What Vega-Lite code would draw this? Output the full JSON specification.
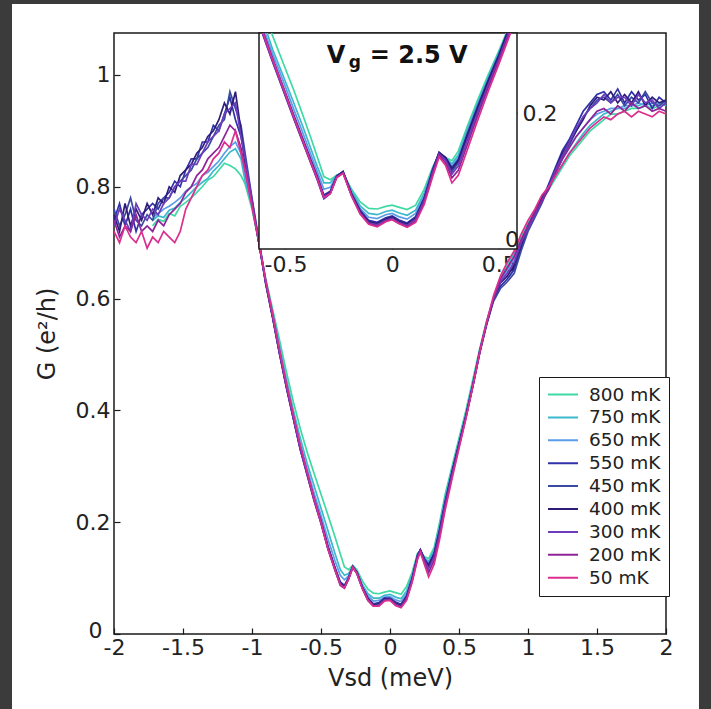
{
"$schema":"https://vega.github.io/schema/vega-lite/v6.json",
"width":552,"height":601,
"autosize":{"type":"none"},
"padding":{"left":114,"top":33,"right":45,"bottom":75},
"background":"white",
"config":{
 "font":"DejaVu Sans",
 "view":{"stroke":"#1a1a1a","strokeWidth":1.5},
 "axis":{"grid":false,"domain":false,"tickColor":"#1a1a1a","tickWidth":1.2,"labelColor":"#222","titleColor":"#222","labelFont":"DejaVu Sans","titleFont":"DejaVu Sans","labelFontSize":22,"titleFontSize":24,"titleFontWeight":"normal","labelFlush":false,"labelOverlap":false,"zindex":1}
},
"datasets":{
"main":[
{"T":800,"x":-1.72,"G":0.73},{"T":800,"x":-1.68,"G":0.742},{"T":800,"x":-1.64,"G":0.738},{"T":800,"x":-1.6,"G":0.752},{"T":800,"x":-1.56,"G":0.748},{"T":800,"x":-1.52,"G":0.765},{"T":800,"x":-1.48,"G":0.772},{"T":800,"x":-1.44,"G":0.78},{"T":800,"x":-1.4,"G":0.79},{"T":800,"x":-1.36,"G":0.8},{"T":800,"x":-1.32,"G":0.812},{"T":800,"x":-1.28,"G":0.818},{"T":800,"x":-1.24,"G":0.83},{"T":800,"x":-1.2,"G":0.842},{"T":800,"x":-1.16,"G":0.838},{"T":800,"x":-1.12,"G":0.832},{"T":800,"x":-1.08,"G":0.82},
{"T":800,"x":-1.05,"G":0.805},{"T":800,"x":-1,"G":0.76},{"T":800,"x":-0.95,"G":0.7},{"T":800,"x":-0.9,"G":0.635},{"T":800,"x":-0.85,"G":0.58},{"T":800,"x":-0.8,"G":0.525},{"T":800,"x":-0.75,"G":0.468},{"T":800,"x":-0.7,"G":0.415},{"T":800,"x":-0.65,"G":0.367},{"T":800,"x":-0.6,"G":0.325},{"T":800,"x":-0.55,"G":0.287},{"T":800,"x":-0.5,"G":0.25},{"T":800,"x":-0.45,"G":0.213},{"T":800,"x":-0.4,"G":0.175},{"T":800,"x":-0.36,"G":0.143},{"T":800,"x":-0.33,"G":0.12},{"T":800,"x":-0.3,"G":0.115},{"T":800,"x":-0.27,"G":0.123},{"T":800,"x":-0.24,"G":0.115},{"T":800,"x":-0.2,"G":0.095},{"T":800,"x":-0.16,"G":0.08},{"T":800,"x":-0.12,"G":0.073},{"T":800,"x":-0.08,"G":0.072},{"T":800,"x":-0.04,"G":0.075},{"T":800,"x":0,"G":0.077},{"T":800,"x":0.04,"G":0.074},{"T":800,"x":0.08,"G":0.071},{"T":800,"x":0.12,"G":0.085},{"T":800,"x":0.16,"G":0.11},{"T":800,"x":0.2,"G":0.145},{"T":800,"x":0.22,"G":0.148},{"T":800,"x":0.25,"G":0.138},{"T":800,"x":0.28,"G":0.135},{"T":800,"x":0.32,"G":0.155},{"T":800,"x":0.36,"G":0.2},{"T":800,"x":0.4,"G":0.25},{"T":800,"x":0.45,"G":0.3},{"T":800,"x":0.5,"G":0.35},{"T":800,"x":0.55,"G":0.4},{"T":800,"x":0.6,"G":0.455},{"T":800,"x":0.65,"G":0.51},{"T":800,"x":0.7,"G":0.56},{"T":800,"x":0.75,"G":0.6},{"T":800,"x":0.8,"G":0.635},{"T":800,"x":0.85,"G":0.66},{"T":800,"x":0.9,"G":0.685},{"T":800,"x":0.95,"G":0.71},
{"T":800,"x":1,"G":0.735},{"T":800,"x":1.05,"G":0.755},{"T":800,"x":1.1,"G":0.775},{"T":800,"x":1.15,"G":0.795},{"T":800,"x":1.2,"G":0.815},{"T":800,"x":1.25,"G":0.835},{"T":800,"x":1.3,"G":0.855},{"T":800,"x":1.35,"G":0.87},{"T":800,"x":1.4,"G":0.885},{"T":800,"x":1.45,"G":0.9},{"T":800,"x":1.5,"G":0.91},{"T":800,"x":1.55,"G":0.92},{"T":800,"x":1.6,"G":0.93},{"T":800,"x":1.65,"G":0.93},{"T":800,"x":1.7,"G":0.935},{"T":800,"x":1.75,"G":0.94},{"T":800,"x":1.8,"G":0.94},{"T":800,"x":1.85,"G":0.945},{"T":800,"x":1.9,"G":0.94},{"T":800,"x":1.95,"G":0.945},

{"T":750,"x":-1.72,"G":0.74},{"T":750,"x":-1.68,"G":0.748},{"T":750,"x":-1.64,"G":0.745},{"T":750,"x":-1.6,"G":0.758},{"T":750,"x":-1.56,"G":0.762},{"T":750,"x":-1.52,"G":0.772},{"T":750,"x":-1.48,"G":0.78},{"T":750,"x":-1.44,"G":0.79},{"T":750,"x":-1.4,"G":0.8},{"T":750,"x":-1.36,"G":0.808},{"T":750,"x":-1.32,"G":0.815},{"T":750,"x":-1.28,"G":0.828},{"T":750,"x":-1.24,"G":0.838},{"T":750,"x":-1.2,"G":0.85},{"T":750,"x":-1.16,"G":0.862},{"T":750,"x":-1.12,"G":0.868},{"T":750,"x":-1.08,"G":0.85},
{"T":750,"x":-1.05,"G":0.81},{"T":750,"x":-1,"G":0.765},{"T":750,"x":-0.95,"G":0.7},{"T":750,"x":-0.9,"G":0.63},{"T":750,"x":-0.85,"G":0.575},{"T":750,"x":-0.8,"G":0.515},{"T":750,"x":-0.75,"G":0.455},{"T":750,"x":-0.7,"G":0.4},{"T":750,"x":-0.65,"G":0.35},{"T":750,"x":-0.6,"G":0.305},{"T":750,"x":-0.55,"G":0.265},{"T":750,"x":-0.5,"G":0.225},{"T":750,"x":-0.45,"G":0.185},{"T":750,"x":-0.4,"G":0.145},{"T":750,"x":-0.36,"G":0.115},{"T":750,"x":-0.33,"G":0.105},{"T":750,"x":-0.3,"G":0.108},{"T":750,"x":-0.27,"G":0.121},{"T":750,"x":-0.24,"G":0.112},{"T":750,"x":-0.2,"G":0.088},{"T":750,"x":-0.16,"G":0.072},{"T":750,"x":-0.12,"G":0.064},{"T":750,"x":-0.08,"G":0.064},{"T":750,"x":-0.04,"G":0.069},{"T":750,"x":0,"G":0.071},{"T":750,"x":0.04,"G":0.066},{"T":750,"x":0.08,"G":0.063},{"T":750,"x":0.12,"G":0.077},{"T":750,"x":0.16,"G":0.105},{"T":750,"x":0.2,"G":0.143},{"T":750,"x":0.22,"G":0.149},{"T":750,"x":0.25,"G":0.136},{"T":750,"x":0.28,"G":0.13},{"T":750,"x":0.32,"G":0.15},{"T":750,"x":0.36,"G":0.195},{"T":750,"x":0.4,"G":0.245},{"T":750,"x":0.45,"G":0.295},{"T":750,"x":0.5,"G":0.345},{"T":750,"x":0.55,"G":0.395},{"T":750,"x":0.6,"G":0.45},{"T":750,"x":0.65,"G":0.508},{"T":750,"x":0.7,"G":0.558},{"T":750,"x":0.75,"G":0.6},{"T":750,"x":0.8,"G":0.632},{"T":750,"x":0.85,"G":0.655},{"T":750,"x":0.9,"G":0.68},{"T":750,"x":0.95,"G":0.705},
{"T":750,"x":1,"G":0.73},{"T":750,"x":1.05,"G":0.752},{"T":750,"x":1.1,"G":0.775},{"T":750,"x":1.15,"G":0.797},{"T":750,"x":1.2,"G":0.82},{"T":750,"x":1.25,"G":0.84},{"T":750,"x":1.3,"G":0.86},{"T":750,"x":1.35,"G":0.878},{"T":750,"x":1.4,"G":0.895},{"T":750,"x":1.45,"G":0.91},{"T":750,"x":1.5,"G":0.92},{"T":750,"x":1.55,"G":0.93},{"T":750,"x":1.6,"G":0.935},{"T":750,"x":1.65,"G":0.94},{"T":750,"x":1.7,"G":0.94},{"T":750,"x":1.75,"G":0.945},{"T":750,"x":1.8,"G":0.945},{"T":750,"x":1.85,"G":0.95},{"T":750,"x":1.9,"G":0.945},{"T":750,"x":1.95,"G":0.95},{"T":750,"x":2,"G":0.945},

{"T":650,"x":-1.72,"G":0.745},{"T":650,"x":-1.68,"G":0.752},{"T":650,"x":-1.64,"G":0.76},{"T":650,"x":-1.6,"G":0.765},{"T":650,"x":-1.56,"G":0.772},{"T":650,"x":-1.52,"G":0.78},{"T":650,"x":-1.48,"G":0.792},{"T":650,"x":-1.44,"G":0.8},{"T":650,"x":-1.4,"G":0.806},{"T":650,"x":-1.36,"G":0.82},{"T":650,"x":-1.32,"G":0.826},{"T":650,"x":-1.28,"G":0.836},{"T":650,"x":-1.24,"G":0.846},{"T":650,"x":-1.2,"G":0.86},{"T":650,"x":-1.16,"G":0.872},{"T":650,"x":-1.12,"G":0.88},{"T":650,"x":-1.08,"G":0.86},
{"T":650,"x":-1.05,"G":0.82},{"T":650,"x":-1,"G":0.765},{"T":650,"x":-0.95,"G":0.7},{"T":650,"x":-0.9,"G":0.628},{"T":650,"x":-0.85,"G":0.57},{"T":650,"x":-0.8,"G":0.508},{"T":650,"x":-0.75,"G":0.448},{"T":650,"x":-0.7,"G":0.392},{"T":650,"x":-0.65,"G":0.34},{"T":650,"x":-0.6,"G":0.295},{"T":650,"x":-0.55,"G":0.252},{"T":650,"x":-0.5,"G":0.212},{"T":650,"x":-0.45,"G":0.17},{"T":650,"x":-0.4,"G":0.132},{"T":650,"x":-0.36,"G":0.105},{"T":650,"x":-0.33,"G":0.097},{"T":650,"x":-0.3,"G":0.104},{"T":650,"x":-0.27,"G":0.121},{"T":650,"x":-0.24,"G":0.11},{"T":650,"x":-0.2,"G":0.086},{"T":650,"x":-0.16,"G":0.068},{"T":650,"x":-0.12,"G":0.059},{"T":650,"x":-0.08,"G":0.06},{"T":650,"x":-0.04,"G":0.066},{"T":650,"x":0,"G":0.067},{"T":650,"x":0.04,"G":0.061},{"T":650,"x":0.08,"G":0.058},{"T":650,"x":0.12,"G":0.072},{"T":650,"x":0.16,"G":0.102},{"T":650,"x":0.2,"G":0.142},{"T":650,"x":0.22,"G":0.15},{"T":650,"x":0.25,"G":0.135},{"T":650,"x":0.28,"G":0.127},{"T":650,"x":0.32,"G":0.147},{"T":650,"x":0.36,"G":0.19},{"T":650,"x":0.4,"G":0.24},{"T":650,"x":0.45,"G":0.292},{"T":650,"x":0.5,"G":0.342},{"T":650,"x":0.55,"G":0.392},{"T":650,"x":0.6,"G":0.447},{"T":650,"x":0.65,"G":0.506},{"T":650,"x":0.7,"G":0.556},{"T":650,"x":0.75,"G":0.6},{"T":650,"x":0.8,"G":0.63},{"T":650,"x":0.85,"G":0.65},{"T":650,"x":0.9,"G":0.672},{"T":650,"x":0.95,"G":0.7},
{"T":650,"x":1,"G":0.73},{"T":650,"x":1.05,"G":0.75},{"T":650,"x":1.1,"G":0.775},{"T":650,"x":1.15,"G":0.8},{"T":650,"x":1.2,"G":0.825},{"T":650,"x":1.25,"G":0.85},{"T":650,"x":1.3,"G":0.87},{"T":650,"x":1.35,"G":0.89},{"T":650,"x":1.4,"G":0.905},{"T":650,"x":1.45,"G":0.92},{"T":650,"x":1.5,"G":0.93},{"T":650,"x":1.55,"G":0.935},{"T":650,"x":1.6,"G":0.94},{"T":650,"x":1.65,"G":0.94},{"T":650,"x":1.7,"G":0.945},{"T":650,"x":1.75,"G":0.945},{"T":650,"x":1.8,"G":0.95},{"T":650,"x":1.85,"G":0.945},{"T":650,"x":1.9,"G":0.95},{"T":650,"x":1.95,"G":0.945},{"T":650,"x":2,"G":0.95},

{"T":550,"x":-2,"G":0.74},{"T":550,"x":-1.96,"G":0.77},{"T":550,"x":-1.92,"G":0.73},{"T":550,"x":-1.88,"G":0.76},{"T":550,"x":-1.84,"G":0.72},{"T":550,"x":-1.8,"G":0.75},{"T":550,"x":-1.76,"G":0.76},{"T":550,"x":-1.72,"G":0.77},{"T":550,"x":-1.68,"G":0.76},{"T":550,"x":-1.64,"G":0.78},{"T":550,"x":-1.6,"G":0.79},{"T":550,"x":-1.56,"G":0.81},{"T":550,"x":-1.52,"G":0.8},{"T":550,"x":-1.48,"G":0.83},{"T":550,"x":-1.44,"G":0.85},{"T":550,"x":-1.4,"G":0.85},{"T":550,"x":-1.36,"G":0.88},{"T":550,"x":-1.32,"G":0.88},{"T":550,"x":-1.28,"G":0.91},{"T":550,"x":-1.24,"G":0.9},{"T":550,"x":-1.2,"G":0.93},{"T":550,"x":-1.16,"G":0.96},{"T":550,"x":-1.12,"G":0.92},{"T":550,"x":-1.08,"G":0.89},
{"T":550,"x":-1.05,"G":0.85},{"T":550,"x":-1,"G":0.775},{"T":550,"x":-0.95,"G":0.7},{"T":550,"x":-0.9,"G":0.628},{"T":550,"x":-0.85,"G":0.567},{"T":550,"x":-0.8,"G":0.503},{"T":550,"x":-0.75,"G":0.443},{"T":550,"x":-0.7,"G":0.388},{"T":550,"x":-0.65,"G":0.333},{"T":550,"x":-0.6,"G":0.288},{"T":550,"x":-0.55,"G":0.243},{"T":550,"x":-0.5,"G":0.203},{"T":550,"x":-0.45,"G":0.158},{"T":550,"x":-0.4,"G":0.12},{"T":550,"x":-0.36,"G":0.093},{"T":550,"x":-0.33,"G":0.087},{"T":550,"x":-0.3,"G":0.101},{"T":550,"x":-0.27,"G":0.121},{"T":550,"x":-0.24,"G":0.11},{"T":550,"x":-0.2,"G":0.084},{"T":550,"x":-0.16,"G":0.064},{"T":550,"x":-0.12,"G":0.054},{"T":550,"x":-0.08,"G":0.056},{"T":550,"x":-0.04,"G":0.064},{"T":550,"x":0,"G":0.064},{"T":550,"x":0.04,"G":0.057},{"T":550,"x":0.08,"G":0.053},{"T":550,"x":0.12,"G":0.068},{"T":550,"x":0.16,"G":0.099},{"T":550,"x":0.2,"G":0.141},{"T":550,"x":0.22,"G":0.151},{"T":550,"x":0.25,"G":0.134},{"T":550,"x":0.28,"G":0.124},{"T":550,"x":0.32,"G":0.144},{"T":550,"x":0.36,"G":0.187},{"T":550,"x":0.4,"G":0.237},{"T":550,"x":0.45,"G":0.29},{"T":550,"x":0.5,"G":0.34},{"T":550,"x":0.55,"G":0.39},{"T":550,"x":0.6,"G":0.445},{"T":550,"x":0.65,"G":0.505},{"T":550,"x":0.7,"G":0.555},{"T":550,"x":0.75,"G":0.598},{"T":550,"x":0.8,"G":0.622},{"T":550,"x":0.85,"G":0.635},{"T":550,"x":0.9,"G":0.652},{"T":550,"x":0.95,"G":0.69},
{"T":550,"x":1,"G":0.725},{"T":550,"x":1.05,"G":0.75},{"T":550,"x":1.1,"G":0.775},{"T":550,"x":1.15,"G":0.805},{"T":550,"x":1.2,"G":0.835},{"T":550,"x":1.25,"G":0.865},{"T":550,"x":1.3,"G":0.885},{"T":550,"x":1.35,"G":0.91},{"T":550,"x":1.4,"G":0.935},{"T":550,"x":1.45,"G":0.95},{"T":550,"x":1.5,"G":0.965},{"T":550,"x":1.55,"G":0.97},{"T":550,"x":1.6,"G":0.955},{"T":550,"x":1.65,"G":0.975},{"T":550,"x":1.7,"G":0.95},{"T":550,"x":1.75,"G":0.97},{"T":550,"x":1.8,"G":0.955},{"T":550,"x":1.85,"G":0.965},{"T":550,"x":1.9,"G":0.94},{"T":550,"x":1.95,"G":0.96},{"T":550,"x":2,"G":0.95},

{"T":450,"x":-2,"G":0.76},{"T":450,"x":-1.96,"G":0.73},{"T":450,"x":-1.92,"G":0.75},{"T":450,"x":-1.88,"G":0.78},{"T":450,"x":-1.84,"G":0.74},{"T":450,"x":-1.8,"G":0.73},{"T":450,"x":-1.76,"G":0.75},{"T":450,"x":-1.72,"G":0.74},{"T":450,"x":-1.68,"G":0.77},{"T":450,"x":-1.64,"G":0.78},{"T":450,"x":-1.6,"G":0.78},{"T":450,"x":-1.56,"G":0.8},{"T":450,"x":-1.52,"G":0.81},{"T":450,"x":-1.48,"G":0.82},{"T":450,"x":-1.44,"G":0.83},{"T":450,"x":-1.4,"G":0.85},{"T":450,"x":-1.36,"G":0.86},{"T":450,"x":-1.32,"G":0.87},{"T":450,"x":-1.28,"G":0.89},{"T":450,"x":-1.24,"G":0.91},{"T":450,"x":-1.2,"G":0.92},{"T":450,"x":-1.16,"G":0.97},{"T":450,"x":-1.12,"G":0.94},{"T":450,"x":-1.08,"G":0.91},
{"T":450,"x":-1.05,"G":0.86},{"T":450,"x":-1,"G":0.78},{"T":450,"x":-0.95,"G":0.705},{"T":450,"x":-0.9,"G":0.63},{"T":450,"x":-0.85,"G":0.566},{"T":450,"x":-0.8,"G":0.502},{"T":450,"x":-0.75,"G":0.441},{"T":450,"x":-0.7,"G":0.386},{"T":450,"x":-0.65,"G":0.331},{"T":450,"x":-0.6,"G":0.286},{"T":450,"x":-0.55,"G":0.241},{"T":450,"x":-0.5,"G":0.201},{"T":450,"x":-0.45,"G":0.156},{"T":450,"x":-0.4,"G":0.119},{"T":450,"x":-0.36,"G":0.091},{"T":450,"x":-0.33,"G":0.086},{"T":450,"x":-0.3,"G":0.1},{"T":450,"x":-0.27,"G":0.121},{"T":450,"x":-0.24,"G":0.11},{"T":450,"x":-0.2,"G":0.083},{"T":450,"x":-0.16,"G":0.063},{"T":450,"x":-0.12,"G":0.053},{"T":450,"x":-0.08,"G":0.055},{"T":450,"x":-0.04,"G":0.063},{"T":450,"x":0,"G":0.063},{"T":450,"x":0.04,"G":0.056},{"T":450,"x":0.08,"G":0.052},{"T":450,"x":0.12,"G":0.067},{"T":450,"x":0.16,"G":0.098},{"T":450,"x":0.2,"G":0.14},{"T":450,"x":0.22,"G":0.15},{"T":450,"x":0.25,"G":0.133},{"T":450,"x":0.28,"G":0.121},{"T":450,"x":0.32,"G":0.142},{"T":450,"x":0.36,"G":0.185},{"T":450,"x":0.4,"G":0.235},{"T":450,"x":0.45,"G":0.288},{"T":450,"x":0.5,"G":0.338},{"T":450,"x":0.55,"G":0.388},{"T":450,"x":0.6,"G":0.443},{"T":450,"x":0.65,"G":0.503},{"T":450,"x":0.7,"G":0.553},{"T":450,"x":0.75,"G":0.595},{"T":450,"x":0.8,"G":0.618},{"T":450,"x":0.85,"G":0.63},{"T":450,"x":0.9,"G":0.645},{"T":450,"x":0.95,"G":0.685},
{"T":450,"x":1,"G":0.72},{"T":450,"x":1.05,"G":0.745},{"T":450,"x":1.1,"G":0.77},{"T":450,"x":1.15,"G":0.8},{"T":450,"x":1.2,"G":0.825},{"T":450,"x":1.25,"G":0.855},{"T":450,"x":1.3,"G":0.875},{"T":450,"x":1.35,"G":0.9},{"T":450,"x":1.4,"G":0.925},{"T":450,"x":1.45,"G":0.94},{"T":450,"x":1.5,"G":0.955},{"T":450,"x":1.55,"G":0.96},{"T":450,"x":1.6,"G":0.95},{"T":450,"x":1.65,"G":0.965},{"T":450,"x":1.7,"G":0.945},{"T":450,"x":1.75,"G":0.96},{"T":450,"x":1.8,"G":0.95},{"T":450,"x":1.85,"G":0.97},{"T":450,"x":1.9,"G":0.95},{"T":450,"x":1.95,"G":0.945},{"T":450,"x":2,"G":0.955},

{"T":400,"x":-2,"G":0.75},{"T":400,"x":-1.96,"G":0.72},{"T":400,"x":-1.92,"G":0.77},{"T":400,"x":-1.88,"G":0.73},{"T":400,"x":-1.84,"G":0.76},{"T":400,"x":-1.8,"G":0.74},{"T":400,"x":-1.76,"G":0.77},{"T":400,"x":-1.72,"G":0.75},{"T":400,"x":-1.68,"G":0.78},{"T":400,"x":-1.64,"G":0.77},{"T":400,"x":-1.6,"G":0.8},{"T":400,"x":-1.56,"G":0.79},{"T":400,"x":-1.52,"G":0.82},{"T":400,"x":-1.48,"G":0.83},{"T":400,"x":-1.44,"G":0.84},{"T":400,"x":-1.4,"G":0.86},{"T":400,"x":-1.36,"G":0.87},{"T":400,"x":-1.32,"G":0.89},{"T":400,"x":-1.28,"G":0.9},{"T":400,"x":-1.24,"G":0.92},{"T":400,"x":-1.2,"G":0.95},{"T":400,"x":-1.16,"G":0.93},{"T":400,"x":-1.12,"G":0.97},{"T":400,"x":-1.08,"G":0.9},
{"T":400,"x":-1.05,"G":0.84},{"T":400,"x":-1,"G":0.77},{"T":400,"x":-0.95,"G":0.7},{"T":400,"x":-0.9,"G":0.625},{"T":400,"x":-0.85,"G":0.565},{"T":400,"x":-0.8,"G":0.5},{"T":400,"x":-0.75,"G":0.44},{"T":400,"x":-0.7,"G":0.385},{"T":400,"x":-0.65,"G":0.33},{"T":400,"x":-0.6,"G":0.285},{"T":400,"x":-0.55,"G":0.24},{"T":400,"x":-0.5,"G":0.2},{"T":400,"x":-0.45,"G":0.155},{"T":400,"x":-0.4,"G":0.118},{"T":400,"x":-0.36,"G":0.09},{"T":400,"x":-0.33,"G":0.085},{"T":400,"x":-0.3,"G":0.1},{"T":400,"x":-0.27,"G":0.12},{"T":400,"x":-0.24,"G":0.11},{"T":400,"x":-0.2,"G":0.083},{"T":400,"x":-0.16,"G":0.063},{"T":400,"x":-0.12,"G":0.052},{"T":400,"x":-0.08,"G":0.054},{"T":400,"x":-0.04,"G":0.063},{"T":400,"x":0,"G":0.063},{"T":400,"x":0.04,"G":0.055},{"T":400,"x":0.08,"G":0.051},{"T":400,"x":0.12,"G":0.066},{"T":400,"x":0.16,"G":0.098},{"T":400,"x":0.2,"G":0.14},{"T":400,"x":0.22,"G":0.15},{"T":400,"x":0.25,"G":0.133},{"T":400,"x":0.28,"G":0.122},{"T":400,"x":0.32,"G":0.143},{"T":400,"x":0.36,"G":0.185},{"T":400,"x":0.4,"G":0.235},{"T":400,"x":0.45,"G":0.29},{"T":400,"x":0.5,"G":0.34},{"T":400,"x":0.55,"G":0.39},{"T":400,"x":0.6,"G":0.445},{"T":400,"x":0.65,"G":0.505},{"T":400,"x":0.7,"G":0.555},{"T":400,"x":0.75,"G":0.6},{"T":400,"x":0.8,"G":0.628},{"T":400,"x":0.85,"G":0.64},{"T":400,"x":0.9,"G":0.66},{"T":400,"x":0.95,"G":0.695},
{"T":400,"x":1,"G":0.73},{"T":400,"x":1.05,"G":0.755},{"T":400,"x":1.1,"G":0.78},{"T":400,"x":1.15,"G":0.8},{"T":400,"x":1.2,"G":0.83},{"T":400,"x":1.25,"G":0.86},{"T":400,"x":1.3,"G":0.88},{"T":400,"x":1.35,"G":0.9},{"T":400,"x":1.4,"G":0.92},{"T":400,"x":1.45,"G":0.945},{"T":400,"x":1.5,"G":0.96},{"T":400,"x":1.55,"G":0.955},{"T":400,"x":1.6,"G":0.97},{"T":400,"x":1.65,"G":0.95},{"T":400,"x":1.7,"G":0.965},{"T":400,"x":1.75,"G":0.95},{"T":400,"x":1.8,"G":0.97},{"T":400,"x":1.85,"G":0.945},{"T":400,"x":1.9,"G":0.96},{"T":400,"x":1.95,"G":0.95},{"T":400,"x":2,"G":0.955},

{"T":300,"x":-2,"G":0.73},{"T":300,"x":-1.96,"G":0.76},{"T":300,"x":-1.92,"G":0.74},{"T":300,"x":-1.88,"G":0.72},{"T":300,"x":-1.84,"G":0.77},{"T":300,"x":-1.8,"G":0.75},{"T":300,"x":-1.76,"G":0.74},{"T":300,"x":-1.72,"G":0.76},{"T":300,"x":-1.68,"G":0.75},{"T":300,"x":-1.64,"G":0.77},{"T":300,"x":-1.6,"G":0.78},{"T":300,"x":-1.56,"G":0.8},{"T":300,"x":-1.52,"G":0.81},{"T":300,"x":-1.48,"G":0.81},{"T":300,"x":-1.44,"G":0.84},{"T":300,"x":-1.4,"G":0.84},{"T":300,"x":-1.36,"G":0.86},{"T":300,"x":-1.32,"G":0.88},{"T":300,"x":-1.28,"G":0.89},{"T":300,"x":-1.24,"G":0.9},{"T":300,"x":-1.2,"G":0.93},{"T":300,"x":-1.16,"G":0.94},{"T":300,"x":-1.12,"G":0.95},{"T":300,"x":-1.08,"G":0.89},
{"T":300,"x":-1.05,"G":0.85},{"T":300,"x":-1,"G":0.775},{"T":300,"x":-0.95,"G":0.7},{"T":300,"x":-0.9,"G":0.627},{"T":300,"x":-0.85,"G":0.566},{"T":300,"x":-0.8,"G":0.501},{"T":300,"x":-0.75,"G":0.441},{"T":300,"x":-0.7,"G":0.385},{"T":300,"x":-0.65,"G":0.33},{"T":300,"x":-0.6,"G":0.284},{"T":300,"x":-0.55,"G":0.238},{"T":300,"x":-0.5,"G":0.198},{"T":300,"x":-0.45,"G":0.153},{"T":300,"x":-0.4,"G":0.116},{"T":300,"x":-0.36,"G":0.088},{"T":300,"x":-0.33,"G":0.083},{"T":300,"x":-0.3,"G":0.099},{"T":300,"x":-0.27,"G":0.12},{"T":300,"x":-0.24,"G":0.109},{"T":300,"x":-0.2,"G":0.082},{"T":300,"x":-0.16,"G":0.061},{"T":300,"x":-0.12,"G":0.05},{"T":300,"x":-0.08,"G":0.052},{"T":300,"x":-0.04,"G":0.061},{"T":300,"x":0,"G":0.062},{"T":300,"x":0.04,"G":0.053},{"T":300,"x":0.08,"G":0.049},{"T":300,"x":0.12,"G":0.064},{"T":300,"x":0.16,"G":0.096},{"T":300,"x":0.2,"G":0.138},{"T":300,"x":0.22,"G":0.149},{"T":300,"x":0.25,"G":0.131},{"T":300,"x":0.28,"G":0.117},{"T":300,"x":0.32,"G":0.138},{"T":300,"x":0.36,"G":0.181},{"T":300,"x":0.4,"G":0.232},{"T":300,"x":0.45,"G":0.286},{"T":300,"x":0.5,"G":0.337},{"T":300,"x":0.55,"G":0.388},{"T":300,"x":0.6,"G":0.443},{"T":300,"x":0.65,"G":0.503},{"T":300,"x":0.7,"G":0.555},{"T":300,"x":0.75,"G":0.6},{"T":300,"x":0.8,"G":0.63},{"T":300,"x":0.85,"G":0.645},{"T":300,"x":0.9,"G":0.665},{"T":300,"x":0.95,"G":0.7},
{"T":300,"x":1,"G":0.725},{"T":300,"x":1.05,"G":0.75},{"T":300,"x":1.1,"G":0.775},{"T":300,"x":1.15,"G":0.8},{"T":300,"x":1.2,"G":0.83},{"T":300,"x":1.25,"G":0.855},{"T":300,"x":1.3,"G":0.88},{"T":300,"x":1.35,"G":0.905},{"T":300,"x":1.4,"G":0.925},{"T":300,"x":1.45,"G":0.94},{"T":300,"x":1.5,"G":0.95},{"T":300,"x":1.55,"G":0.965},{"T":300,"x":1.6,"G":0.95},{"T":300,"x":1.65,"G":0.96},{"T":300,"x":1.7,"G":0.96},{"T":300,"x":1.75,"G":0.945},{"T":300,"x":1.8,"G":0.965},{"T":300,"x":1.85,"G":0.95},{"T":300,"x":1.9,"G":0.955},{"T":300,"x":1.95,"G":0.94},{"T":300,"x":2,"G":0.95},

{"T":200,"x":-2,"G":0.74},{"T":200,"x":-1.96,"G":0.71},{"T":200,"x":-1.92,"G":0.73},{"T":200,"x":-1.88,"G":0.72},{"T":200,"x":-1.84,"G":0.75},{"T":200,"x":-1.8,"G":0.72},{"T":200,"x":-1.76,"G":0.73},{"T":200,"x":-1.72,"G":0.72},{"T":200,"x":-1.68,"G":0.74},{"T":200,"x":-1.64,"G":0.73},{"T":200,"x":-1.6,"G":0.75},{"T":200,"x":-1.56,"G":0.76},{"T":200,"x":-1.52,"G":0.77},{"T":200,"x":-1.48,"G":0.79},{"T":200,"x":-1.44,"G":0.8},{"T":200,"x":-1.4,"G":0.82},{"T":200,"x":-1.36,"G":0.83},{"T":200,"x":-1.32,"G":0.85},{"T":200,"x":-1.28,"G":0.86},{"T":200,"x":-1.24,"G":0.87},{"T":200,"x":-1.2,"G":0.89},{"T":200,"x":-1.16,"G":0.91},{"T":200,"x":-1.12,"G":0.9},{"T":200,"x":-1.08,"G":0.87},
{"T":200,"x":-1.05,"G":0.83},{"T":200,"x":-1,"G":0.77},{"T":200,"x":-0.95,"G":0.7},{"T":200,"x":-0.9,"G":0.63},{"T":200,"x":-0.85,"G":0.57},{"T":200,"x":-0.8,"G":0.505},{"T":200,"x":-0.75,"G":0.445},{"T":200,"x":-0.7,"G":0.39},{"T":200,"x":-0.65,"G":0.335},{"T":200,"x":-0.6,"G":0.288},{"T":200,"x":-0.55,"G":0.24},{"T":200,"x":-0.5,"G":0.198},{"T":200,"x":-0.45,"G":0.152},{"T":200,"x":-0.4,"G":0.115},{"T":200,"x":-0.36,"G":0.087},{"T":200,"x":-0.33,"G":0.082},{"T":200,"x":-0.3,"G":0.098},{"T":200,"x":-0.27,"G":0.119},{"T":200,"x":-0.24,"G":0.108},{"T":200,"x":-0.2,"G":0.081},{"T":200,"x":-0.16,"G":0.06},{"T":200,"x":-0.12,"G":0.05},{"T":200,"x":-0.08,"G":0.051},{"T":200,"x":-0.04,"G":0.06},{"T":200,"x":0,"G":0.061},{"T":200,"x":0.04,"G":0.052},{"T":200,"x":0.08,"G":0.048},{"T":200,"x":0.12,"G":0.062},{"T":200,"x":0.16,"G":0.094},{"T":200,"x":0.2,"G":0.136},{"T":200,"x":0.22,"G":0.148},{"T":200,"x":0.25,"G":0.128},{"T":200,"x":0.28,"G":0.11},{"T":200,"x":0.32,"G":0.132},{"T":200,"x":0.36,"G":0.176},{"T":200,"x":0.4,"G":0.228},{"T":200,"x":0.45,"G":0.283},{"T":200,"x":0.5,"G":0.335},{"T":200,"x":0.55,"G":0.387},{"T":200,"x":0.6,"G":0.443},{"T":200,"x":0.65,"G":0.503},{"T":200,"x":0.7,"G":0.556},{"T":200,"x":0.75,"G":0.6},{"T":200,"x":0.8,"G":0.635},{"T":200,"x":0.85,"G":0.655},{"T":200,"x":0.9,"G":0.675},{"T":200,"x":0.95,"G":0.705},
{"T":200,"x":1,"G":0.73},{"T":200,"x":1.05,"G":0.755},{"T":200,"x":1.1,"G":0.775},{"T":200,"x":1.15,"G":0.795},{"T":200,"x":1.2,"G":0.825},{"T":200,"x":1.25,"G":0.85},{"T":200,"x":1.3,"G":0.87},{"T":200,"x":1.35,"G":0.89},{"T":200,"x":1.4,"G":0.905},{"T":200,"x":1.45,"G":0.92},{"T":200,"x":1.5,"G":0.935},{"T":200,"x":1.55,"G":0.94},{"T":200,"x":1.6,"G":0.93},{"T":200,"x":1.65,"G":0.945},{"T":200,"x":1.7,"G":0.935},{"T":200,"x":1.75,"G":0.95},{"T":200,"x":1.8,"G":0.94},{"T":200,"x":1.85,"G":0.945},{"T":200,"x":1.9,"G":0.935},{"T":200,"x":1.95,"G":0.94},{"T":200,"x":2,"G":0.935},

{"T":50,"x":-2,"G":0.72},{"T":50,"x":-1.96,"G":0.7},{"T":50,"x":-1.92,"G":0.73},{"T":50,"x":-1.88,"G":0.71},{"T":50,"x":-1.84,"G":0.7},{"T":50,"x":-1.8,"G":0.72},{"T":50,"x":-1.76,"G":0.69},{"T":50,"x":-1.72,"G":0.71},{"T":50,"x":-1.68,"G":0.7},{"T":50,"x":-1.64,"G":0.72},{"T":50,"x":-1.6,"G":0.71},{"T":50,"x":-1.56,"G":0.7},{"T":50,"x":-1.52,"G":0.72},{"T":50,"x":-1.48,"G":0.76},{"T":50,"x":-1.44,"G":0.78},{"T":50,"x":-1.4,"G":0.8},{"T":50,"x":-1.36,"G":0.82},{"T":50,"x":-1.32,"G":0.83},{"T":50,"x":-1.28,"G":0.85},{"T":50,"x":-1.24,"G":0.86},{"T":50,"x":-1.2,"G":0.88},{"T":50,"x":-1.16,"G":0.87},{"T":50,"x":-1.12,"G":0.9},{"T":50,"x":-1.08,"G":0.86},
{"T":50,"x":-1.05,"G":0.83},{"T":50,"x":-1,"G":0.765},{"T":50,"x":-0.95,"G":0.7},{"T":50,"x":-0.9,"G":0.632},{"T":50,"x":-0.85,"G":0.572},{"T":50,"x":-0.8,"G":0.507},{"T":50,"x":-0.75,"G":0.447},{"T":50,"x":-0.7,"G":0.392},{"T":50,"x":-0.65,"G":0.337},{"T":50,"x":-0.6,"G":0.29},{"T":50,"x":-0.55,"G":0.242},{"T":50,"x":-0.5,"G":0.2},{"T":50,"x":-0.45,"G":0.153},{"T":50,"x":-0.4,"G":0.116},{"T":50,"x":-0.36,"G":0.088},{"T":50,"x":-0.33,"G":0.083},{"T":50,"x":-0.3,"G":0.098},{"T":50,"x":-0.27,"G":0.119},{"T":50,"x":-0.24,"G":0.108},{"T":50,"x":-0.2,"G":0.081},{"T":50,"x":-0.16,"G":0.06},{"T":50,"x":-0.12,"G":0.05},{"T":50,"x":-0.08,"G":0.05},{"T":50,"x":-0.04,"G":0.059},{"T":50,"x":0,"G":0.06},{"T":50,"x":0.04,"G":0.051},{"T":50,"x":0.08,"G":0.047},{"T":50,"x":0.12,"G":0.06},{"T":50,"x":0.16,"G":0.092},{"T":50,"x":0.2,"G":0.134},{"T":50,"x":0.22,"G":0.146},{"T":50,"x":0.25,"G":0.124},{"T":50,"x":0.28,"G":0.102},{"T":50,"x":0.32,"G":0.125},{"T":50,"x":0.36,"G":0.17},{"T":50,"x":0.4,"G":0.222},{"T":50,"x":0.45,"G":0.278},{"T":50,"x":0.5,"G":0.332},{"T":50,"x":0.55,"G":0.385},{"T":50,"x":0.6,"G":0.443},{"T":50,"x":0.65,"G":0.505},{"T":50,"x":0.7,"G":0.558},{"T":50,"x":0.75,"G":0.605},{"T":50,"x":0.8,"G":0.64},{"T":50,"x":0.85,"G":0.665},{"T":50,"x":0.9,"G":0.685},{"T":50,"x":0.95,"G":0.715},
{"T":50,"x":1,"G":0.74},{"T":50,"x":1.05,"G":0.76},{"T":50,"x":1.1,"G":0.785},{"T":50,"x":1.15,"G":0.8},{"T":50,"x":1.2,"G":0.82},{"T":50,"x":1.25,"G":0.84},{"T":50,"x":1.3,"G":0.86},{"T":50,"x":1.35,"G":0.875},{"T":50,"x":1.4,"G":0.89},{"T":50,"x":1.45,"G":0.905},{"T":50,"x":1.5,"G":0.915},{"T":50,"x":1.55,"G":0.925},{"T":50,"x":1.6,"G":0.92},{"T":50,"x":1.65,"G":0.93},{"T":50,"x":1.7,"G":0.935},{"T":50,"x":1.75,"G":0.925},{"T":50,"x":1.8,"G":0.935},{"T":50,"x":1.85,"G":0.93},{"T":50,"x":1.9,"G":0.925},{"T":50,"x":1.95,"G":0.935},{"T":50,"x":2,"G":0.93}
],
"inset":[
{"T":800,"x":-0.57,"G":0.33},{"T":800,"x":-0.51,"G":0.278},{"T":800,"x":-0.46,"G":0.235},{"T":800,"x":-0.42,"G":0.198},{"T":800,"x":-0.38,"G":0.16},{"T":800,"x":-0.35,"G":0.13},{"T":800,"x":-0.32,"G":0.1},{"T":800,"x":-0.29,"G":0.095},{"T":800,"x":-0.26,"G":0.102},{"T":800,"x":-0.23,"G":0.105},{"T":800,"x":-0.19,"G":0.08},{"T":800,"x":-0.15,"G":0.06},{"T":800,"x":-0.11,"G":0.05},{"T":800,"x":-0.07,"G":0.049},{"T":800,"x":-0.03,"G":0.053},{"T":800,"x":0,"G":0.055},{"T":800,"x":0.03,"G":0.052},{"T":800,"x":0.07,"G":0.048},{"T":800,"x":0.11,"G":0.055},{"T":800,"x":0.15,"G":0.08},{"T":800,"x":0.19,"G":0.115},{"T":800,"x":0.22,"G":0.135},{"T":800,"x":0.25,"G":0.13},{"T":800,"x":0.28,"G":0.125},{"T":800,"x":0.31,"G":0.14},{"T":800,"x":0.35,"G":0.177},{"T":800,"x":0.4,"G":0.22},{"T":800,"x":0.45,"G":0.26},{"T":800,"x":0.5,"G":0.298},{"T":800,"x":0.54,"G":0.33},
{"T":750,"x":-0.59,"G":0.33},{"T":750,"x":-0.56,"G":0.3},{"T":750,"x":-0.51,"G":0.258},{"T":750,"x":-0.46,"G":0.215},{"T":750,"x":-0.42,"G":0.18},{"T":750,"x":-0.38,"G":0.143},{"T":750,"x":-0.35,"G":0.115},{"T":750,"x":-0.32,"G":0.09},{"T":750,"x":-0.29,"G":0.09},{"T":750,"x":-0.26,"G":0.102},{"T":750,"x":-0.23,"G":0.106},{"T":750,"x":-0.19,"G":0.077},{"T":750,"x":-0.15,"G":0.054},{"T":750,"x":-0.11,"G":0.042},{"T":750,"x":-0.07,"G":0.04},{"T":750,"x":-0.03,"G":0.045},{"T":750,"x":0,"G":0.047},{"T":750,"x":0.03,"G":0.043},{"T":750,"x":0.07,"G":0.039},{"T":750,"x":0.11,"G":0.047},{"T":750,"x":0.15,"G":0.074},{"T":750,"x":0.19,"G":0.113},{"T":750,"x":0.22,"G":0.136},{"T":750,"x":0.25,"G":0.13},{"T":750,"x":0.28,"G":0.12},{"T":750,"x":0.31,"G":0.134},{"T":750,"x":0.35,"G":0.172},{"T":750,"x":0.4,"G":0.215},{"T":750,"x":0.45,"G":0.256},{"T":750,"x":0.5,"G":0.295},{"T":750,"x":0.545,"G":0.33},
{"T":650,"x":-0.6,"G":0.33},{"T":650,"x":-0.56,"G":0.293},{"T":650,"x":-0.51,"G":0.25},{"T":650,"x":-0.46,"G":0.205},{"T":650,"x":-0.42,"G":0.17},{"T":650,"x":-0.38,"G":0.134},{"T":650,"x":-0.35,"G":0.107},{"T":650,"x":-0.32,"G":0.08},{"T":650,"x":-0.29,"G":0.083},{"T":650,"x":-0.26,"G":0.101},{"T":650,"x":-0.23,"G":0.107},{"T":650,"x":-0.19,"G":0.074},{"T":650,"x":-0.15,"G":0.05},{"T":650,"x":-0.11,"G":0.036},{"T":650,"x":-0.07,"G":0.034},{"T":650,"x":-0.03,"G":0.04},{"T":650,"x":0,"G":0.042},{"T":650,"x":0.03,"G":0.037},{"T":650,"x":0.07,"G":0.033},{"T":650,"x":0.11,"G":0.042},{"T":650,"x":0.15,"G":0.07},{"T":650,"x":0.19,"G":0.112},{"T":650,"x":0.22,"G":0.137},{"T":650,"x":0.25,"G":0.13},{"T":650,"x":0.28,"G":0.116},{"T":650,"x":0.31,"G":0.13},{"T":650,"x":0.35,"G":0.168},{"T":650,"x":0.4,"G":0.212},{"T":650,"x":0.45,"G":0.253},{"T":650,"x":0.5,"G":0.292},{"T":650,"x":0.55,"G":0.335},
{"T":550,"x":-0.61,"G":0.333},{"T":550,"x":-0.56,"G":0.286},{"T":550,"x":-0.51,"G":0.241},{"T":550,"x":-0.46,"G":0.196},{"T":550,"x":-0.42,"G":0.161},{"T":550,"x":-0.38,"G":0.126},{"T":550,"x":-0.35,"G":0.1},{"T":550,"x":-0.32,"G":0.071},{"T":550,"x":-0.29,"G":0.077},{"T":550,"x":-0.26,"G":0.101},{"T":550,"x":-0.23,"G":0.108},{"T":550,"x":-0.19,"G":0.073},{"T":550,"x":-0.15,"G":0.047},{"T":550,"x":-0.11,"G":0.031},{"T":550,"x":-0.07,"G":0.028},{"T":550,"x":-0.03,"G":0.035},{"T":550,"x":0,"G":0.038},{"T":550,"x":0.03,"G":0.032},{"T":550,"x":0.07,"G":0.027},{"T":550,"x":0.11,"G":0.037},{"T":550,"x":0.15,"G":0.066},{"T":550,"x":0.19,"G":0.111},{"T":550,"x":0.22,"G":0.138},{"T":550,"x":0.25,"G":0.13},{"T":550,"x":0.28,"G":0.114},{"T":550,"x":0.31,"G":0.127},{"T":550,"x":0.35,"G":0.165},{"T":550,"x":0.4,"G":0.21},{"T":550,"x":0.45,"G":0.252},{"T":550,"x":0.5,"G":0.292},{"T":550,"x":0.55,"G":0.337},
{"T":450,"x":-0.61,"G":0.328},{"T":450,"x":-0.56,"G":0.281},{"T":450,"x":-0.51,"G":0.236},{"T":450,"x":-0.46,"G":0.191},{"T":450,"x":-0.42,"G":0.156},{"T":450,"x":-0.38,"G":0.121},{"T":450,"x":-0.35,"G":0.095},{"T":450,"x":-0.32,"G":0.066},{"T":450,"x":-0.29,"G":0.074},{"T":450,"x":-0.26,"G":0.1},{"T":450,"x":-0.23,"G":0.107},{"T":450,"x":-0.19,"G":0.071},{"T":450,"x":-0.15,"G":0.044},{"T":450,"x":-0.11,"G":0.028},{"T":450,"x":-0.07,"G":0.025},{"T":450,"x":-0.03,"G":0.032},{"T":450,"x":0,"G":0.035},{"T":450,"x":0.03,"G":0.029},{"T":450,"x":0.07,"G":0.024},{"T":450,"x":0.11,"G":0.034},{"T":450,"x":0.15,"G":0.064},{"T":450,"x":0.19,"G":0.109},{"T":450,"x":0.22,"G":0.137},{"T":450,"x":0.25,"G":0.128},{"T":450,"x":0.28,"G":0.108},{"T":450,"x":0.31,"G":0.122},{"T":450,"x":0.35,"G":0.16},{"T":450,"x":0.4,"G":0.205},{"T":450,"x":0.45,"G":0.248},{"T":450,"x":0.5,"G":0.288},{"T":450,"x":0.55,"G":0.333},
{"T":400,"x":-0.61,"G":0.33},{"T":400,"x":-0.56,"G":0.283},{"T":400,"x":-0.51,"G":0.238},{"T":400,"x":-0.46,"G":0.193},{"T":400,"x":-0.42,"G":0.158},{"T":400,"x":-0.38,"G":0.123},{"T":400,"x":-0.35,"G":0.097},{"T":400,"x":-0.32,"G":0.068},{"T":400,"x":-0.29,"G":0.075},{"T":400,"x":-0.26,"G":0.1},{"T":400,"x":-0.23,"G":0.108},{"T":400,"x":-0.19,"G":0.072},{"T":400,"x":-0.15,"G":0.045},{"T":400,"x":-0.11,"G":0.029},{"T":400,"x":-0.07,"G":0.026},{"T":400,"x":-0.03,"G":0.033},{"T":400,"x":0,"G":0.036},{"T":400,"x":0.03,"G":0.03},{"T":400,"x":0.07,"G":0.025},{"T":400,"x":0.11,"G":0.035},{"T":400,"x":0.15,"G":0.065},{"T":400,"x":0.19,"G":0.11},{"T":400,"x":0.22,"G":0.138},{"T":400,"x":0.25,"G":0.13},{"T":400,"x":0.28,"G":0.112},{"T":400,"x":0.31,"G":0.125},{"T":400,"x":0.35,"G":0.163},{"T":400,"x":0.4,"G":0.208},{"T":400,"x":0.45,"G":0.25},{"T":400,"x":0.5,"G":0.29},{"T":400,"x":0.55,"G":0.335},
{"T":300,"x":-0.61,"G":0.327},{"T":300,"x":-0.56,"G":0.28},{"T":300,"x":-0.51,"G":0.235},{"T":300,"x":-0.46,"G":0.19},{"T":300,"x":-0.42,"G":0.155},{"T":300,"x":-0.38,"G":0.12},{"T":300,"x":-0.35,"G":0.094},{"T":300,"x":-0.32,"G":0.065},{"T":300,"x":-0.29,"G":0.073},{"T":300,"x":-0.26,"G":0.099},{"T":300,"x":-0.23,"G":0.106},{"T":300,"x":-0.19,"G":0.07},{"T":300,"x":-0.15,"G":0.043},{"T":300,"x":-0.11,"G":0.027},{"T":300,"x":-0.07,"G":0.024},{"T":300,"x":-0.03,"G":0.031},{"T":300,"x":0,"G":0.034},{"T":300,"x":0.03,"G":0.028},{"T":300,"x":0.07,"G":0.023},{"T":300,"x":0.11,"G":0.033},{"T":300,"x":0.15,"G":0.062},{"T":300,"x":0.19,"G":0.107},{"T":300,"x":0.22,"G":0.136},{"T":300,"x":0.25,"G":0.126},{"T":300,"x":0.28,"G":0.104},{"T":300,"x":0.31,"G":0.117},{"T":300,"x":0.35,"G":0.155},{"T":300,"x":0.4,"G":0.2},{"T":300,"x":0.45,"G":0.244},{"T":300,"x":0.5,"G":0.285},{"T":300,"x":0.55,"G":0.33},
{"T":200,"x":-0.61,"G":0.33},{"T":200,"x":-0.56,"G":0.283},{"T":200,"x":-0.51,"G":0.238},{"T":200,"x":-0.46,"G":0.192},{"T":200,"x":-0.42,"G":0.157},{"T":200,"x":-0.38,"G":0.122},{"T":200,"x":-0.35,"G":0.096},{"T":200,"x":-0.32,"G":0.067},{"T":200,"x":-0.29,"G":0.074},{"T":200,"x":-0.26,"G":0.099},{"T":200,"x":-0.23,"G":0.106},{"T":200,"x":-0.19,"G":0.07},{"T":200,"x":-0.15,"G":0.042},{"T":200,"x":-0.11,"G":0.026},{"T":200,"x":-0.07,"G":0.022},{"T":200,"x":-0.03,"G":0.03},{"T":200,"x":0,"G":0.033},{"T":200,"x":0.03,"G":0.027},{"T":200,"x":0.07,"G":0.021},{"T":200,"x":0.11,"G":0.03},{"T":200,"x":0.15,"G":0.059},{"T":200,"x":0.19,"G":0.104},{"T":200,"x":0.22,"G":0.134},{"T":200,"x":0.25,"G":0.122},{"T":200,"x":0.28,"G":0.098},{"T":200,"x":0.31,"G":0.11},{"T":200,"x":0.35,"G":0.148},{"T":200,"x":0.4,"G":0.195},{"T":200,"x":0.45,"G":0.24},{"T":200,"x":0.5,"G":0.282},{"T":200,"x":0.56,"G":0.335},
{"T":50,"x":-0.61,"G":0.331},{"T":50,"x":-0.56,"G":0.284},{"T":50,"x":-0.51,"G":0.239},{"T":50,"x":-0.46,"G":0.193},{"T":50,"x":-0.42,"G":0.158},{"T":50,"x":-0.38,"G":0.122},{"T":50,"x":-0.35,"G":0.096},{"T":50,"x":-0.32,"G":0.067},{"T":50,"x":-0.29,"G":0.073},{"T":50,"x":-0.26,"G":0.098},{"T":50,"x":-0.23,"G":0.105},{"T":50,"x":-0.19,"G":0.069},{"T":50,"x":-0.15,"G":0.041},{"T":50,"x":-0.11,"G":0.025},{"T":50,"x":-0.07,"G":0.021},{"T":50,"x":-0.03,"G":0.029},{"T":50,"x":0,"G":0.032},{"T":50,"x":0.03,"G":0.026},{"T":50,"x":0.07,"G":0.02},{"T":50,"x":0.11,"G":0.028},{"T":50,"x":0.15,"G":0.056},{"T":50,"x":0.19,"G":0.1},{"T":50,"x":0.22,"G":0.131},{"T":50,"x":0.25,"G":0.118},{"T":50,"x":0.28,"G":0.09},{"T":50,"x":0.31,"G":0.102},{"T":50,"x":0.35,"G":0.14},{"T":50,"x":0.4,"G":0.188},{"T":50,"x":0.45,"G":0.234},{"T":50,"x":0.5,"G":0.277},{"T":50,"x":0.565,"G":0.335}
]
},
"layer":[
 {"layer":[
  {"data":{"name":"main"},
   "mark":{"type":"line","strokeWidth":1.7},
   "encoding":{
    "x":{"field":"x","type":"quantitative","scale":{"domain":[-2,2],"nice":false,"zero":false},
         "axis":{"orient":"bottom","title":"Vsd (meV)","values":[-2,-1.5,-1,-0.5,0,0.5,1,1.5,2],"labelExpr":"'' + datum.value","tickSize":-6,"labelPadding":9,"titlePadding":8}},
    "y":{"field":"G","type":"quantitative","scale":{"domain":[0,1.075],"nice":false,"zero":false},
         "axis":{"orient":"left","title":"G (e²/h)","values":[0,0.2,0.4,0.6,0.8,1],"labelExpr":"'' + datum.value","tickSize":-6,"labelPadding":{"condition":{"test":"datum.value === 0","value":18},"value":10},"labelOffset":{"condition":{"test":"datum.value === 0","value":-4},"value":0},"titlePadding":16}},
    "color":{"field":"T","type":"nominal",
      "scale":{"domain":[800,750,650,550,450,400,300,200,50],"range":["#3fd9a3","#3cb8cc","#5b9de8","#3030aa","#3a4aa0","#2e1c78","#6c3cbc","#8e2498","#db2f8f"]},
      "legend":{"title":null,"orient":"none","legendX":425,"legendY":344,"direction":"vertical","fillColor":"white","strokeColor":"#1a1a1a","padding":8,"symbolType":"stroke","symbolSize":900,"symbolStrokeWidth":2,"clipHeight":19,"rowPadding":3.9,"labelOffset":10,"labelFontSize":18.5,"labelFont":"DejaVu Sans","labelColor":"#222","labelExpr":"datum.label + ' mK'","zindex":1}}
   }},
  {"data":{"values":[{}]},"mark":{"type":"rect","color":"#3b3b3b"},
   "encoding":{"x":{"datum":-2.95,"type":"quantitative","scale":{"domain":[-2,2],"nice":false,"zero":false}},"x2":{"datum":-2.739},"y":{"datum":-0.3,"type":"quantitative","scale":{"domain":[0,1.075],"nice":false,"zero":false}},"y2":{"datum":1.3}}},
  {"data":{"values":[{}]},"mark":{"type":"rect","color":"#3b3b3b"},
   "encoding":{"x":{"datum":2.239,"type":"quantitative","scale":{"domain":[-2,2],"nice":false,"zero":false}},"x2":{"datum":2.6},"y":{"datum":-0.3,"type":"quantitative","scale":{"domain":[0,1.075],"nice":false,"zero":false}},"y2":{"datum":1.3}}},
  {"data":{"values":[{}]},"mark":{"type":"rect","color":"#3b3b3b"},
   "encoding":{"x":{"datum":-2.95,"type":"quantitative","scale":{"domain":[-2,2],"nice":false,"zero":false}},"x2":{"datum":2.6},"y":{"datum":1.127,"type":"quantitative","scale":{"domain":[0,1.075],"nice":false,"zero":false}},"y2":{"datum":1.3}}}
 ]},
 {"layer":[
  {"data":{"values":[{}]},"mark":{"type":"rect","fill":"white","stroke":"#1a1a1a","strokeWidth":1.5},
   "encoding":{"x":{"datum":-0.624,"type":"quantitative"},"x2":{"datum":0.585},"y":{"datum":-0.014,"type":"quantitative"},"y2":{"datum":0.326}}},
  {"data":{"name":"inset"},
   "mark":{"type":"line","strokeWidth":1.7,"clip":true},
   "encoding":{
    "x":{"field":"x","type":"quantitative","scale":{"domain":[-0.624,0.585],"range":[145,403],"nice":false,"zero":false},
         "axis":{"orient":"bottom","offset":-385,"title":null,"values":[-0.5,0,0.5],"labelExpr":"'' + datum.value","tickSize":-7,"tickWidth":1.5,"labelPadding":12}},
    "y":{"field":"G","type":"quantitative","scale":{"domain":[-0.014,0.326],"range":[216,0],"nice":false,"zero":false},
         "axis":{"orient":"right","offset":-149,"title":null,"values":[0.2],"labelExpr":"'' + datum.value","tickSize":-10,"tickWidth":1.5,"labelPadding":15}},
    "color":{"field":"T","type":"nominal"}
   }},
  {"data":{"values":[{}]},"mark":{"type":"text","text":"V","font":"DejaVu Sans","fontWeight":"bold","fontSize":24,"align":"left","baseline":"alphabetic","color":"#111"},
   "encoding":{"x":{"datum":-0.306,"type":"quantitative"},"y":{"datum":0.278,"type":"quantitative"}}},
  {"data":{"values":[{}]},"mark":{"type":"text","text":"g","font":"DejaVu Sans","fontWeight":"bold","fontSize":17,"align":"left","baseline":"alphabetic","color":"#111"},
   "encoding":{"x":{"datum":-0.203,"type":"quantitative"},"y":{"datum":0.271,"type":"quantitative"}}},
  {"data":{"values":[{}]},"mark":{"type":"text","text":"= 2.5 V","font":"DejaVu Sans","fontWeight":"bold","fontSize":24,"align":"left","baseline":"alphabetic","color":"#111"},
   "encoding":{"x":{"datum":-0.105,"type":"quantitative"},"y":{"datum":0.278,"type":"quantitative"}}},
  {"data":{"values":[{}]},"mark":{"type":"text","text":"0","font":"DejaVu Sans","fontSize":22,"align":"center","baseline":"middle","color":"#222"},
   "encoding":{"x":{"datum":0.561,"type":"quantitative"},"y":{"datum":0,"type":"quantitative"}}}
 ]}
],
"resolve":{"scale":{"x":"independent","y":"independent"}}
}
